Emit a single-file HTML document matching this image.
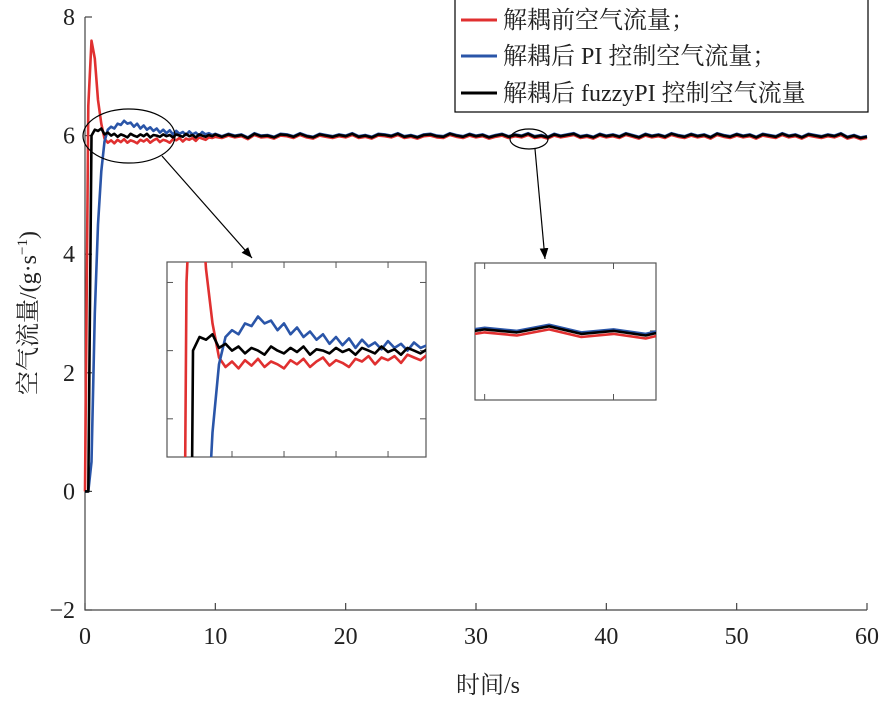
<!DOCTYPE html>
<html><head><meta charset="utf-8"><style>
html,body{margin:0;padding:0;background:#fff;width:879px;height:720px;overflow:hidden}
svg{display:block}
text{font-family:"Liberation Serif","Noto Serif CJK SC","Noto Sans CJK SC",serif;fill:#222}
</style></head><body>
<svg id="chart" width="879" height="720" viewBox="0 0 879 720">
<defs>
<clipPath id="c1"><rect x="167" y="262" width="259" height="195"/></clipPath>
<clipPath id="c2"><rect x="475" y="263" width="181" height="137"/></clipPath>
<marker id="ah" viewBox="0 0 10 10" refX="10" refY="5" markerWidth="9" markerHeight="9" orient="auto"><path d="M0,1 L10,5 L0,9 z" fill="#000"/></marker>
</defs>
<g id="main"></g>
<g id="inset1"></g>
<g id="inset2"></g>
<g id="deco">
<ellipse cx="129" cy="136" rx="46" ry="27" fill="none" stroke="#000" stroke-width="1.2"/>
<ellipse cx="529" cy="139" rx="19" ry="10" fill="none" stroke="#000" stroke-width="1.2"/>
<line x1="162" y1="156" x2="252" y2="258" stroke="#000" stroke-width="1.2" marker-end="url(#ah)"/>
<line x1="535" y1="149" x2="545" y2="259" stroke="#000" stroke-width="1.2" marker-end="url(#ah)"/>
</g>
<g>
<rect x="455" y="-1" width="413" height="113" fill="#fff" stroke="#000" stroke-width="1.2"/>
<g><line x1="461" y1="20" x2="497" y2="20" stroke="#e03030" stroke-width="3"/><text x="503" y="28" font-size="24">解耦前空气流量；</text></g>
<g><line x1="461" y1="56" x2="497" y2="56" stroke="#2a55a8" stroke-width="3"/><text x="503" y="64" font-size="24">解耦后 PI 控制空气流量；</text></g>
<g><line x1="461" y1="93" x2="497" y2="93" stroke="#000" stroke-width="3"/><text x="503" y="101" font-size="24">解耦后 fuzzyPI 控制空气流量</text></g>
</g>
<text x="488" y="693" font-size="24" text-anchor="middle">时间/s</text>
<text transform="translate(36,313) rotate(-90)" font-size="24" text-anchor="middle">空气流量/(g·s<tspan font-size="15" dy="-9">−1</tspan><tspan dy="9">)</tspan></text>
</svg>
<script>
const xTicks=[0,10,20,30,40,50,60];
const yTicks=[-2,0,2,4,6,8];
const tEarly=[0,0.25,0.5,0.75,1,1.25,1.5,1.75,2,2.25,2.5,2.75,3,3.25,3.5,3.75,4,4.25,4.5,4.75,5,5.25,5.5,5.75,6,6.25,6.5,6.75,7,7.25,7.5,7.75,8,8.25,8.5,8.75,9,9.25,9.5,9.75,10];
const blackEarly=[0,0,6.00,6.10,6.08,6.12,6.02,6.05,6.00,6.03,5.98,6.02,6.00,5.97,6.03,6.00,5.98,6.02,5.99,6.03,5.97,6.01,6.00,5.98,6.02,5.99,6.01,5.97,6.02,6.00,5.98,6.03,5.99,6.01,5.97,6.02,6.00,5.98,6.01,5.99,6.02];
const redEarly=[0,6.5,7.6,7.3,6.6,6.2,5.95,5.88,5.92,5.87,5.93,5.89,5.94,5.88,5.92,5.90,5.87,5.93,5.90,5.94,5.88,5.92,5.95,5.89,5.93,5.91,5.88,5.94,5.92,5.96,5.90,5.95,5.93,5.96,5.91,5.97,5.95,5.93,5.97,5.96,5.98];
const blueEarly=[0,0,0.5,3.0,4.5,5.4,5.9,6.1,6.15,6.12,6.2,6.18,6.25,6.2,6.22,6.15,6.2,6.12,6.17,6.1,6.14,6.08,6.12,6.05,6.1,6.04,6.09,6.02,6.08,6.03,6.06,6.01,6.07,6.02,6.05,6.0,6.06,6.02,6.04,6.01,6.03];
const blackSteady=[5.98,6.02,5.99,6.01,5.96,6.03,5.99,6.00,5.97,6.02,6.01,5.98,6.03,5.99,5.97,6.02,6.00,5.98,6.01,5.99,6.03,5.98,6.00,5.97,6.02,6.01,5.99,6.03,5.98,6.00,5.97,6.01,6.02,5.99,5.98,6.03,6.00,5.98,6.02,5.99,6.01,5.97,6.00,6.02,5.98,6.01,5.99,6.03,5.98,6.00,5.97,6.02,5.99,6.01,6.03,5.98,6.00,5.97,6.02,5.99,6.01,5.98,6.03,6.00,5.97,6.02,5.99,6.01,5.98,6.03,6.00,5.98,6.02,5.99,6.01,5.97,6.03,6.00,5.98,6.02,5.99,6.01,5.97,6.02,6.00,5.98,6.03,5.99,6.01,5.97,6.02,6.00,5.98,6.01,5.99,6.03,5.97,6.00,5.96,5.98];
const redSteady=[5.96,6.00,5.97,5.99,5.94,6.01,5.97,5.98,5.95,6.00,5.99,5.96,6.01,5.97,5.95,6.00,5.98,5.96,5.99,5.97,6.01,5.96,5.98,5.95,6.00,5.99,5.97,6.01,5.96,5.98,5.95,5.99,6.00,5.97,5.96,6.01,5.98,5.96,6.00,5.97,5.99,5.95,5.98,6.00,5.96,5.99,5.97,6.01,5.96,5.98,5.95,6.00,5.97,5.99,6.01,5.96,5.98,5.95,6.00,5.97,5.99,5.96,6.01,5.98,5.95,6.00,5.97,5.99,5.96,6.01,5.98,5.96,6.00,5.97,5.99,5.95,6.01,5.98,5.96,6.00,5.97,5.99,5.95,6.00,5.98,5.96,6.01,5.97,5.99,5.95,6.00,5.98,5.96,5.99,5.97,6.01,5.95,5.98,5.94,5.96];
const blueSteady=[5.99,6.03,6.00,6.02,5.97,6.04,6.00,6.01,5.98,6.03,6.02,5.99,6.04,6.00,5.98,6.03,6.01,5.99,6.02,6.00,6.04,5.99,6.01,5.98,6.03,6.02,6.00,6.04,5.99,6.01,5.98,6.02,6.03,6.00,5.99,6.04,6.01,5.99,6.03,6.00,6.02,5.98,6.01,6.03,5.99,6.02,6.00,6.04,5.99,6.01,5.98,6.03,6.00,6.02,6.04,5.99,6.01,5.98,6.03,6.00,6.02,5.99,6.04,6.01,5.98,6.03,6.00,6.02,5.99,6.04,6.01,5.99,6.03,6.00,6.02,5.98,6.04,6.01,5.99,6.03,6.00,6.02,5.98,6.03,6.01,5.99,6.04,6.00,6.02,5.98,6.03,6.01,5.99,6.02,6.00,6.04,5.98,6.01,5.97,5.99];

const NS='http://www.w3.org/2000/svg';
function mk(tag,attrs,parent){const e=document.createElementNS(NS,tag);for(const k in attrs)e.setAttribute(k,attrs[k]);parent.appendChild(e);return e;}
const times=tEarly.slice();
for(let i=0;i<blackSteady.length;i++)times.push(10.5+i*0.5);
const black=blackEarly.concat(blackSteady),red=redEarly.concat(redSteady),blue=blueEarly.concat(blueSteady);
const X0=85,X1=867,Y0=610,Y1=17;
const sx=v=>X0+(v-0)/(60-0)*(X1-X0);
const sy=v=>Y0-(v+2)/10*(Y0-Y1);
const main=document.getElementById('main');
function pathFor(xs,ys,fx,fy){return xs.map((t,i)=>(i?'L':'M')+fx(t).toFixed(1)+','+fy(ys[i]).toFixed(1)).join(' ');}
const series=[['red',red,'#e03030'],['blue',blue,'#2a55a8'],['black',black,'#000']];
const ax=mk('path',{d:`M${X0},${Y1} V${Y0} H${X1}`,fill:'none',stroke:'#444','stroke-width':1.2},main);


xTicks.forEach(v=>{
  const l=mk('line',{x1:sx(v),x2:sx(v),y1:Y0,y2:Y0-7,stroke:'#444','stroke-width':1.2},main);
  
  
  const t=mk('text',{x:sx(v),y:Y0+34,'font-size':24,'text-anchor':'middle'},main);t.textContent=v;
  
  
});
yTicks.forEach(v=>{
  const l=mk('line',{x1:X0,x2:X0+7,y1:sy(v),y2:sy(v),stroke:'#444','stroke-width':1.2},main);
  
  
  const t=mk('text',{x:X0-10,y:sy(v)+8,'font-size':24,'text-anchor':'end'},main);t.textContent=v<0?'−'+(-v):v;
  
  
});
series.forEach(([n,ys,c])=>{
  const p=mk('path',{d:pathFor(times,ys,sx,sy),fill:'none',stroke:c,'stroke-width':2.6,'stroke-linejoin':'round'},main);
  
  
});
function inset(id,clip,bx,by,bw,bh,xr,yr,xt,yt,nm){
  const g=document.getElementById(id);
  const fx=v=>bx+(v-xr[0])/(xr[1]-xr[0])*bw;
  const fy=v=>by+bh-(v-yr[0])/(yr[1]-yr[0])*bh;
  const r=mk('rect',{x:bx,y:by,width:bw,height:bh,fill:'#fff',stroke:'#555','stroke-width':1.2},g);
  
  
  xt.forEach(v=>{mk('line',{x1:fx(v),x2:fx(v),y1:by,y2:by+6,stroke:'#555'},g);mk('line',{x1:fx(v),x2:fx(v),y1:by+bh,y2:by+bh-6,stroke:'#555'},g);});
  yt.forEach(v=>{mk('line',{x1:bx,x2:bx+6,y1:fy(v),y2:fy(v),stroke:'#555'},g);mk('line',{x1:bx+bw,x2:bx+bw-6,y1:fy(v),y2:fy(v),stroke:'#555'},g);});
  const cg=mk('g',{'clip-path':`url(#${clip})`},g);
  series.forEach(([n,ys,c])=>{
    const p=mk('path',{d:pathFor(times,ys,fx,fy),fill:'none',stroke:c,'stroke-width':2.6,'stroke-linejoin':'round'},cg);
    
    
  });
}
inset('inset1','c1',167,262,259,195,[-0.5,9.46],[5.22,6.65],[2,4,6,8],[5.5,6,6.5],'inset-start');
inset('inset2','c2',475,263,181,137,[32.85,35.66],[5.546,6.446],[33,35],[6.0],'inset-steady');
</script>
</body></html>
